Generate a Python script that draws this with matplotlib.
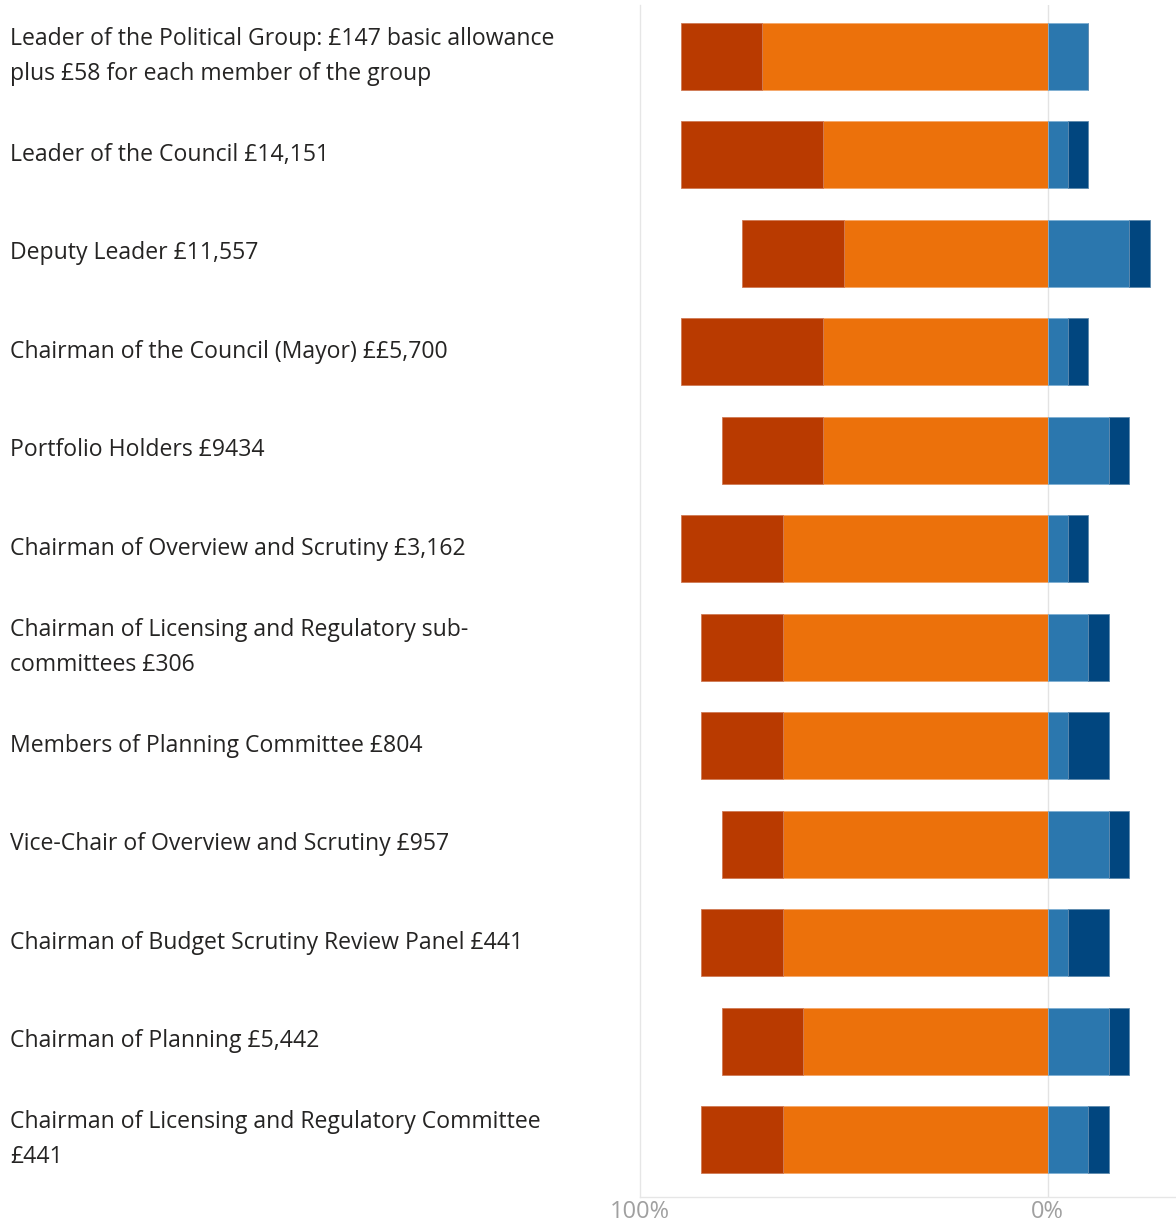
import matplotlib.pyplot as plt
import numpy as np
from matplotlib.transforms import blended_transform_factory

plt.rcParams['font.family'] = ['Open Sans', 'DejaVu Sans']

# Allowance labels, top to bottom
labels = [
    "Leader of the Political Group: £147 basic allowance\nplus £58 for each member of the group",
    "Leader of the Council £14,151",
    "Deputy Leader £11,557",
    "Chairman of the Council (Mayor) ££5,700",
    "Portfolio Holders £9434",
    "Chairman of Overview and Scrutiny £3,162",
    "Chairman of Licensing and Regulatory sub-\ncommittees £306",
    "Members of Planning Committee £804",
    "Vice-Chair of Overview and Scrutiny £957",
    "Chairman of Budget Scrutiny Review Panel £441",
    "Chairman of Planning £5,442",
    "Chairman of Licensing and Regulatory Committee\n£441",
]

# Percent of responses (left side drawn negative)
much_too_high = [20, 35, 25, 35, 25, 25, 20, 20, 15, 20, 20, 20]
too_high      = [70, 55, 50, 55, 55, 65, 65, 65, 65, 65, 60, 65]
about_right   = [10, 5, 20, 5, 15, 5, 10, 5, 15, 5, 15, 10]
too_low       = [0, 5, 5, 5, 5, 5, 5, 10, 5, 10, 5, 5]

c_dark_red = '#b93a00'
c_orange = '#ec710b'
c_blue = '#2b77ae'
c_navy = '#01467f'

fig = plt.figure(figsize=(11.76, 12.25), dpi=100)
ax = fig.add_axes([640 / 1176, 1 - 1197 / 1225, 1 - 640 / 1176, (1197 - 5) / 1225])

y = np.arange(len(labels))
h = 0.68
th = np.array(too_high)
mth = np.array(much_too_high)
ar = np.array(about_right)
tl = np.array(too_low)

ax.barh(y, -th, height=h, color=c_orange, edgecolor='#f5a86a', linewidth=0.6)
ax.barh(y, -mth, left=-th, height=h, color=c_dark_red, edgecolor='#d07a55', linewidth=0.6)
ax.barh(y, ar, height=h, color=c_blue, edgecolor='#7fb0d3', linewidth=0.6)
ax.barh(y, tl, left=ar, height=h, color=c_navy, edgecolor='#5d89ad', linewidth=0.6)

ax.axvline(0, color='#e3e3e3', linewidth=1, zorder=0)

ax.set_xlim(-100, 31.5)
ax.set_ylim(len(labels) - 1 + 0.58, -0.52)

for s in ['top', 'right']:
    ax.spines[s].set_visible(False)
for s in ['left', 'bottom']:
    ax.spines[s].set_color('#e6e6e6')
    ax.spines[s].set_linewidth(1)

ax.set_yticks([])
ax.set_xticks([-100, 0])
ax.set_xticklabels(['100%', '0%'])
ax.tick_params(axis='x', length=0, pad=2, labelsize=17, labelcolor='#a0a0a0')

trans = blended_transform_factory(fig.transFigure, ax.transData)
for yi, lab in zip(y, labels):
    ax.text(10 / 1176, yi, lab, transform=trans, ha='left', va='center',
            fontsize=16.6, color='#252423', linespacing=1.62)

fig.savefig('out.png', dpi=100)
